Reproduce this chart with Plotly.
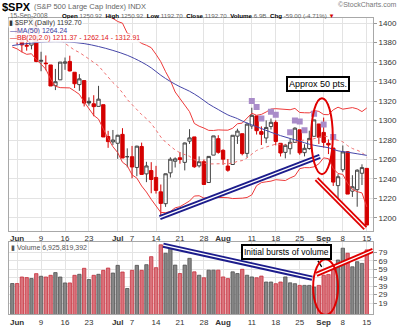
import plotly.graph_objects as go

# ---------------- data ----------------
dates = ["2008-05-30",
         "2008-06-02", "2008-06-03", "2008-06-04", "2008-06-05", "2008-06-06",
         "2008-06-09", "2008-06-10", "2008-06-11", "2008-06-12", "2008-06-13",
         "2008-06-16", "2008-06-17", "2008-06-18", "2008-06-19", "2008-06-20",
         "2008-06-23", "2008-06-24", "2008-06-25", "2008-06-26", "2008-06-27",
         "2008-06-30", "2008-07-01", "2008-07-02", "2008-07-03",
         "2008-07-07", "2008-07-08", "2008-07-09", "2008-07-10", "2008-07-11",
         "2008-07-14", "2008-07-15", "2008-07-16", "2008-07-17", "2008-07-18",
         "2008-07-21", "2008-07-22", "2008-07-23", "2008-07-24", "2008-07-25",
         "2008-07-28", "2008-07-29", "2008-07-30", "2008-07-31", "2008-08-01",
         "2008-08-04", "2008-08-05", "2008-08-06", "2008-08-07", "2008-08-08",
         "2008-08-11", "2008-08-12", "2008-08-13", "2008-08-14", "2008-08-15",
         "2008-08-18", "2008-08-19", "2008-08-20", "2008-08-21", "2008-08-22",
         "2008-08-25", "2008-08-26", "2008-08-27", "2008-08-28", "2008-08-29",
         "2008-09-02", "2008-09-03", "2008-09-04", "2008-09-05",
         "2008-09-08", "2008-09-09", "2008-09-10", "2008-09-11", "2008-09-12",
         "2008-09-15"]

opens = [1398.36, 1399.62, 1386.42, 1376.26, 1377.48, 1400.06, 1360.83, 1358.98, 1357.09, 1335.78,
         1341.81, 1358.85, 1360.71, 1349.59, 1336.89, 1341.02, 1319.77, 1317.23, 1314.54, 1316.29,
         1283.60, 1278.06, 1276.69, 1285.82, 1262.96, 1262.90, 1251.84, 1273.38, 1245.25, 1248.66,
         1241.61, 1226.83, 1214.65, 1246.31, 1258.22, 1261.82, 1257.08, 1278.87, 1283.22, 1253.51,
         1257.76, 1236.38, 1264.52, 1281.37, 1269.42, 1253.27, 1254.87, 1283.99, 1286.51, 1266.29,
         1294.42, 1304.79, 1288.64, 1282.11, 1293.85, 1298.14, 1276.65, 1267.34, 1271.07, 1277.59,
         1290.47, 1267.03, 1271.29, 1283.79, 1296.49, 1287.83, 1276.61, 1271.80, 1233.21, 1249.50,
         1267.98, 1227.50, 1229.04, 1245.88, 1250.92]
highs = [1404.46, 1399.62, 1393.12, 1388.18, 1404.05, 1400.06, 1370.63, 1366.84, 1357.09, 1353.03,
         1360.03, 1364.70, 1366.59, 1349.59, 1347.66, 1341.02, 1323.78, 1326.02, 1335.63, 1316.29,
         1289.45, 1290.31, 1285.31, 1292.17, 1271.48, 1273.95, 1274.17, 1277.36, 1257.65, 1257.27,
         1253.50, 1234.35, 1245.52, 1262.31, 1262.23, 1267.74, 1277.42, 1291.17, 1283.22, 1263.23,
         1260.09, 1263.20, 1284.33, 1284.93, 1270.52, 1260.49, 1284.88, 1291.67, 1286.51, 1297.85,
         1313.15, 1304.79, 1294.03, 1300.11, 1302.05, 1300.22, 1276.65, 1276.01, 1281.40, 1293.09,
         1290.47, 1275.65, 1289.59, 1300.68, 1296.49, 1303.04, 1280.60, 1271.80, 1244.94, 1274.42,
         1268.66, 1243.90, 1249.98, 1255.09, 1250.92]
lows = [1398.08, 1377.79, 1370.12, 1371.74, 1373.07, 1359.90, 1350.62, 1351.56, 1335.47, 1331.29,
        1341.71, 1352.07, 1350.54, 1333.40, 1330.50, 1314.46, 1315.31, 1304.42, 1314.54, 1283.15,
        1272.00, 1274.86, 1260.68, 1261.51, 1252.01, 1240.68, 1242.84, 1244.57, 1236.76, 1225.35,
        1225.01, 1200.44, 1211.39, 1241.49, 1251.81, 1255.70, 1248.83, 1276.06, 1251.48, 1251.75,
        1234.37, 1236.38, 1264.52, 1265.97, 1254.54, 1247.45, 1254.67, 1276.00, 1264.29, 1262.11,
        1291.41, 1285.64, 1274.86, 1276.84, 1290.74, 1274.51, 1263.11, 1261.16, 1265.22, 1277.59,
        1264.87, 1263.21, 1270.03, 1283.79, 1275.93, 1272.20, 1265.59, 1232.83, 1217.23, 1247.12,
        1224.51, 1221.60, 1211.54, 1233.81, 1192.70]
closes = [1400.38, 1385.67, 1377.65, 1377.20, 1404.05, 1360.68, 1361.76, 1358.44, 1335.49, 1339.87,
          1360.03, 1360.14, 1350.93, 1337.81, 1342.83, 1317.93, 1318.00, 1314.29, 1321.97, 1283.15,
          1278.38, 1280.00, 1284.91, 1261.52, 1262.90, 1252.31, 1273.70, 1244.69, 1253.39, 1239.49,
          1228.30, 1214.91, 1245.36, 1260.32, 1260.68, 1260.00, 1277.00, 1282.19, 1252.54, 1257.76,
          1234.37, 1263.20, 1284.26, 1267.38, 1260.31, 1249.01, 1284.88, 1289.19, 1266.07, 1296.32,
          1305.32, 1289.59, 1285.83, 1292.93, 1298.20, 1278.60, 1266.69, 1274.54, 1277.72, 1292.20,
          1266.84, 1271.51, 1281.66, 1300.68, 1282.83, 1277.58, 1274.98, 1236.83, 1242.31, 1267.79,
          1224.51, 1232.04, 1249.05, 1251.70, 1192.70]
close_before_first = 1398.26

# volume, in the units of the volume-axis labels
volume = [42.2, 42.2, 49.9, 49.2, 48.1, 53.9, 50.8, 49.9, 51.9, 55.1,
          49.9, 42.9, 42.9, 51.9, 53.1, 60.2, 46.9, 51.9, 53.1, 57.8,
          60.5, 54.6, 63.7, 55.8, 36.3, 57.8, 63.7, 57.8, 64.5, 74.0,
          61.0, 88.0, 78.0, 84.0, 64.0, 54.0, 64.0, 72.0, 56.0, 52.0,
          49.0, 58.0, 58.0, 58.0, 50.0, 48.0, 56.0, 54.0, 59.0, 52.0,
          50.0, 49.0, 51.0, 44.0, 44.0, 42.0, 44.0, 50.0, 43.0, 42.0,
          40.0, 40.0, 40.0, 38.0, 40.0, 52.0, 53.0, 59.0, 70.0, 84.0,
          78.0, 62.0, 68.0, 66.0, 82.0]

bb_mid = [1402.9, 1401.5, 1400.0, 1398.0, 1398.6, 1396.7, 1395.4, 1393.1, 1389.7, 1386.3,
          1383.1, 1379.9, 1376.1, 1372.3, 1369.9, 1366.1, 1363.2, 1359.6, 1356.2, 1350.4,
          1344.3, 1339.0, 1334.4, 1328.6, 1321.6, 1316.1, 1311.7, 1306.1, 1301.9, 1296.9,
          1290.3, 1283.1, 1277.8, 1273.9, 1269.8, 1266.9, 1264.9, 1263.3, 1259.8, 1258.5,
          1256.3, 1255.5, 1255.5, 1255.7, 1255.6, 1255.5, 1256.0, 1258.2, 1258.9, 1261.7,
          1265.6, 1269.3, 1271.3, 1272.9, 1274.8, 1275.8, 1275.2, 1274.9, 1276.1, 1277.8,
          1279.5, 1279.9, 1279.7, 1281.4, 1282.5, 1284.0, 1283.5, 1280.9, 1279.7, 1278.2,
          1274.2, 1271.3, 1269.5, 1267.4, 1262.14]
bb_up = [1430.4, 1429.4, 1429.7, 1428.0, 1428.5, 1430.9, 1432.7, 1433.5, 1437.0, 1437.4,
         1432.4, 1426.1, 1418.6, 1414.3, 1412.9, 1413.1, 1414.3, 1413.9, 1410.8, 1410.2,
         1407.2, 1404.9, 1401.7, 1400.0, 1389.6, 1388.0, 1382.6, 1379.2, 1377.3, 1374.8,
         1368.0, 1360.4, 1350.2, 1341.1, 1329.3, 1322.2, 1315.3, 1309.1, 1297.0, 1294.2,
         1292.3, 1289.9, 1289.8, 1290.4, 1290.2, 1290.1, 1292.1, 1296.7, 1297.4, 1302.4,
         1307.5, 1305.4, 1306.3, 1308.8, 1311.8, 1312.2, 1311.9, 1311.3, 1311.1, 1312.5,
         1308.3, 1308.0, 1307.9, 1310.3, 1309.4, 1306.2, 1306.0, 1311.0, 1313.7, 1311.7,
         1312.8, 1313.3, 1312.0, 1309.2, 1312.91]
bb_lo = [1375.5, 1373.6, 1370.4, 1368.0, 1368.6, 1362.5, 1358.0, 1352.7, 1342.5, 1335.2,
         1333.8, 1333.6, 1333.5, 1330.3, 1326.9, 1319.1, 1312.0, 1305.3, 1301.5, 1290.7,
         1281.4, 1273.2, 1267.1, 1257.2, 1253.6, 1244.3, 1240.9, 1232.8, 1226.6, 1219.1,
         1212.6, 1205.7, 1205.4, 1206.7, 1210.4, 1211.6, 1214.5, 1217.4, 1222.5, 1222.8,
         1220.4, 1221.0, 1221.1, 1221.1, 1221.1, 1220.8, 1219.9, 1219.8, 1220.3, 1221.0,
         1223.7, 1233.2, 1236.3, 1237.1, 1237.8, 1239.3, 1238.6, 1238.4, 1241.1, 1243.2,
         1250.6, 1251.7, 1251.6, 1252.5, 1255.6, 1261.7, 1260.9, 1250.7, 1245.6, 1244.7,
         1235.6, 1229.3, 1227.0, 1225.7, 1211.37]

ma50_dates = ["2008-05-30", "2008-06-04", "2008-06-09", "2008-06-12", "2008-06-17", "2008-06-20",
              "2008-06-25", "2008-06-30", "2008-07-03", "2008-07-09", "2008-07-11", "2008-07-15",
              "2008-07-17", "2008-07-21", "2008-07-23", "2008-07-25", "2008-07-29", "2008-07-31",
              "2008-08-04", "2008-08-06", "2008-08-07", "2008-08-08", "2008-08-11", "2008-08-13",
              "2008-08-15", "2008-08-19", "2008-08-21", "2008-08-25", "2008-08-27", "2008-08-29",
              "2008-09-03", "2008-09-05", "2008-09-09", "2008-09-11", "2008-09-15"]
ma50_vals = [1377.0, 1379.0, 1380.5, 1381.0, 1380.5, 1379.0, 1376.0, 1372.0, 1367.0, 1360.0,
             1354.1, 1346.5, 1340.1, 1334.7, 1330.1, 1324.1, 1317.0, 1311.3, 1305.8, 1302.0,
             1299.5, 1297.5, 1295.6, 1291.8, 1288.0, 1284.5, 1281.6, 1278.8, 1275.7, 1273.7,
             1272.1, 1268.9, 1267.5, 1265.9, 1264.24]

marker_dates = ["2008-08-11", "2008-08-12", "2008-08-13", "2008-08-15", "2008-08-18", "2008-08-21",
                "2008-08-22", "2008-08-25", "2008-08-26", "2008-08-28", "2008-09-02", "2008-09-04"]
marker_vals = [1320, 1314, 1302, 1309, 1306, 1288, 1300, 1299, 1290, 1307, 1296, 1283]

tick_dates = ["2008-06-02", "2008-06-09", "2008-06-16", "2008-06-23", "2008-07-01", "2008-07-07",
              "2008-07-14", "2008-07-21", "2008-07-28", "2008-08-01", "2008-08-11", "2008-08-18",
              "2008-08-25", "2008-09-02", "2008-09-08", "2008-09-15"]
tick_text = ["<b>Jun</b>", "9", "16", "23", "<b>Jul</b>", "7", "14", "21", "28", "<b>Aug</b>",
             "11", "18", "25", "<b>Sep</b>", "8", "15"]
price_ticks = [1200, 1220, 1240, 1260, 1280, 1300, 1320, 1340, 1360, 1380, 1400]
vol_ticks = [19, 29, 39, 49, 59, 69, 79]

# hand-drawn annotations (in bar-position / value units)
blue_trend_x = [30.8, 64.2]
blue_trend_y = [1200.3, 1263.3]
red_trend_x = [63.5, 73.7]
red_trend_y = [1240.0, 1189.5]
vol_blue_x = [31.5, 62.6]
vol_blue_y = [87.5, 48.5]
vol_red_x = [63.5, 75.3]
vol_red_y = [53.0, 81.5]
price_ellipse = [62.4, 66.9, 1245.0, 1323.0]
vol_ellipse = [62.8, 68.0, 5.0, 71.0]

# ---------------- figure ----------------
W, H = 400, 327
pos = list(range(len(dates)))
ix = {d: i for i, d in enumerate(dates)}
prev = [close_before_first] + closes[:-1]

RED = "#d40000"
FONT = "Liberation Sans, Arial, sans-serif"

fig = go.Figure()

# Bollinger bands and MA
fig.add_trace(go.Scatter(x=pos, y=bb_up, mode="lines", line=dict(color="#ee3b3b", width=1),
                         hoverinfo="skip", xaxis="x", yaxis="y"))
fig.add_trace(go.Scatter(x=pos, y=bb_lo, mode="lines", line=dict(color="#ee3b3b", width=1),
                         hoverinfo="skip", xaxis="x", yaxis="y"))
fig.add_trace(go.Scatter(x=pos, y=bb_mid, mode="lines", line=dict(color="#f07070", width=1, dash="dot"),
                         hoverinfo="skip", xaxis="x", yaxis="y"))
fig.add_trace(go.Scatter(x=[ix[d] for d in ma50_dates], y=ma50_vals, mode="lines",
                         line=dict(color="#4646a8", width=1, shape="spline"),
                         hoverinfo="skip", xaxis="x", yaxis="y"))

# candles: black group (close >= previous close) and red group
for grp_up in (True, False):
    sel = [i for i in pos if (closes[i] >= prev[i]) == grp_up]
    col = "#444444" if grp_up else RED
    filled = "#333333" if grp_up else RED
    fig.add_trace(go.Candlestick(
        x=sel, open=[opens[i] for i in sel], high=[highs[i] for i in sel],
        low=[lows[i] for i in sel], close=[closes[i] for i in sel],
        increasing=dict(line=dict(color=col, width=1), fillcolor="white"),
        decreasing=dict(line=dict(color=col, width=1), fillcolor=filled),
        whiskerwidth=0, xaxis="x", yaxis="y", hoverinfo="skip"))

fig.add_trace(go.Scatter(x=[ix[d] for d in marker_dates], y=marker_vals, mode="markers",
                         marker=dict(symbol="square", size=6, color="#a98cc9"),
                         hoverinfo="skip", xaxis="x", yaxis="y"))

# double trend lines
def double_line(x, y, color, xa, ya):
    fig.add_trace(go.Scatter(x=x, y=y, mode="lines", line=dict(color=color, width=5),
                             hoverinfo="skip", xaxis=xa, yaxis=ya))
    fig.add_trace(go.Scatter(x=x, y=y, mode="lines", line=dict(color="white", width=1.3),
                             hoverinfo="skip", xaxis=xa, yaxis=ya))

double_line(blue_trend_x, blue_trend_y, "#1c1c8c", "x", "y")
double_line(red_trend_x, red_trend_y, "#e00000", "x", "y")

# volume bars
up_idx = [i for i in pos if closes[i] >= prev[i]]
dn_idx = [i for i in pos if closes[i] < prev[i]]
fig.add_trace(go.Bar(x=up_idx, y=[volume[i] for i in up_idx], width=0.7,
                     marker=dict(color="#868686", line=dict(color="#505050", width=0.8)),
                     hoverinfo="skip", xaxis="x2", yaxis="y2"))
fig.add_trace(go.Bar(x=dn_idx, y=[volume[i] for i in dn_idx], width=0.7,
                     marker=dict(color="#d9737c", line=dict(color="#c8303c", width=0.8)),
                     hoverinfo="skip", xaxis="x2", yaxis="y2"))
double_line(vol_blue_x, vol_blue_y, "#1c1c8c", "x2", "y2")
double_line(vol_red_x, vol_red_y, "#e00000", "x2", "y2")

# ellipses
shapes = [
    dict(type="circle", xref="x", yref="y", x0=price_ellipse[0], x1=price_ellipse[1],
         y0=price_ellipse[2], y1=price_ellipse[3], line=dict(color="#e00000", width=2)),
    dict(type="circle", xref="x2", yref="y2", x0=vol_ellipse[0], x1=vol_ellipse[1],
         y0=vol_ellipse[2], y1=vol_ellipse[3], line=dict(color="#e00000", width=2)),
]

def px(x):
    return x / W

def py(y):
    return (H - y) / H

GREY = "#666666"
ann = []
def text(x, y, s, size=7, color="#000", anchor="left", **kw):
    ann.append(dict(x=px(x), y=py(y), xref="paper", yref="paper", text=s, showarrow=False,
                    xanchor=anchor, yanchor="middle", font=dict(size=size, color=color, family=FONT),
                    borderpad=0, **kw))

text(1, 7, "<b>$SPX</b>", size=11)
text(33, 7, "(S&P 500 Large Cap Index) INDX", size=7.5, color=GREY)
text(398, 5, "©StockCharts.com", size=7, color="#777", anchor="right")
text(9, 16, "15-Sep-2008", size=6.5, color=GREY)
g = lambda v: f"<span style='color:{GREY}'>{v}</span>"
header2 = ("<b>Open</b> " + g("1250.92") + "  <b>High</b> " + g("1250.92") +
           "  <b>Low</b> " + g("1192.70") + "  <b>Close</b> " + g("1192.70") +
           "  <b>Volume</b> " + g("6.9B") + "  <b>Chg</b> " + g("-59.00 (-4.71%)") +
           " <span style='color:" + RED + "'>▼</span>")
text(61, 16, header2, size=6.2)

text(8, 23.5, "▮ $SPX (Daily) 1192.70", size=7, color="#333", bgcolor="rgba(255,255,255,0.9)")
text(9, 31, "—MA(50) 1264.24", size=7, color="#3a3aa0", bgcolor="rgba(255,255,255,0.9)")
text(9, 38, "—BB(20,2.0) 1211.37 - 1262.14 - 1312.91", size=7, color="#e02020",
     bgcolor="rgba(255,255,255,0.9)")
text(10, 249.5, "▮ Volume 6,925,819,392", size=7, color="#555")

ann.append(dict(x=63.8, y=1338, xref="x", yref="y", text="Approx 50 pts.", showarrow=False,
                font=dict(size=9, color="#000", family=FONT), bgcolor="white",
                bordercolor="#000", borderwidth=2, borderpad=1))
ann.append(dict(x=57.3, y=80.0, xref="x2", yref="y2", text="Initial bursts of volume", showarrow=False,
                font=dict(size=8.5, color="#000", family=FONT), bgcolor="white",
                bordercolor="#000", borderwidth=2, borderpad=1))

fig.add_trace(go.Scatter(x=[63.8, 64.6], y=[69.0, 62.0], mode="lines", line=dict(color="#000", width=1.3),
                         hoverinfo="skip", xaxis="x2", yaxis="y2"))

XDOM = [9 / W, 373 / W]
xr = [-0.69, 75.3]
tickpos = [ix[d] for d in tick_dates]
axcommon = dict(showline=True, mirror=True, linecolor="#a8a8a8", linewidth=1,
                gridcolor="#e3e3e3", gridwidth=1, zeroline=False, fixedrange=True)

fig.update_layout(
    width=W, height=H, margin=dict(l=0, r=0, t=0, b=0, pad=0),
    paper_bgcolor="white", plot_bgcolor="white", showlegend=False,
    barmode="overlay", boxgap=0.3, boxgroupgap=0,
    font=dict(family=FONT, size=8, color="#333"),
    xaxis=dict(domain=XDOM, range=xr, anchor="y", tickmode="array", tickvals=tickpos,
               ticktext=tick_text, ticks="", ticklen=0,
               tickfont=dict(size=8, color="#333"), rangeslider=dict(visible=False), **axcommon),
    yaxis=dict(domain=[py(232), py(18)], range=[1187.04, 1405.4], side="right", anchor="x",
               tickmode="array", tickvals=price_ticks, ticks="outside", ticklen=3, tickcolor="#999",
               tickfont=dict(size=8, color="#333"), **axcommon),
    xaxis2=dict(domain=XDOM, range=xr, anchor="y2", tickmode="array", tickvals=tickpos,
                ticktext=tick_text, ticks="", ticklen=0,
                tickfont=dict(size=8, color="#333"), rangeslider=dict(visible=False), **axcommon),
    yaxis2=dict(domain=[py(316), py(243)], range=[6.06, 91.9], side="right", anchor="x2",
                tickmode="array", tickvals=vol_ticks, ticks="outside", ticklen=3, tickcolor="#999",
                tickfont=dict(size=8, color="#333"), **axcommon),
    shapes=shapes, annotations=ann,
)

fig.write_html("out.html")
